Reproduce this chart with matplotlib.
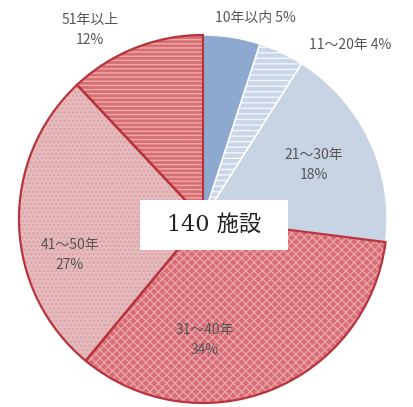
import matplotlib.pyplot as plt
from matplotlib.patches import Rectangle

plt.rcParams['font.family'] = ['Noto Sans CJK JP', 'DejaVu Sans']

# data
categories = ['10年以内', '11～20年', '21～30年', '31～40年', '41～50年', '51年以上']
shares = [5, 4, 18, 34, 27, 12]

face = ['#8EA9CF', '#C9D5E8', '#C8D3E3', '#D86C74', '#E6B9BC', '#D66F72']
hatch_col = ['#9DB5D6', '#F4F7FB', '#C8D3E3', '#E8A2A8', '#D9A2A6', '#F0A9AB']
hatches = ['', '---', '', 'xxxx', '....', '----']
edge = ['#FFFFFF', '#FFFFFF', '#FFFFFF', '#B8343C', '#B8343C', '#B8343C']

W, H = 414, 407
fig = plt.figure(figsize=(W / 100, H / 100), dpi=100)
ax = fig.add_axes([0, 0, 1, 1])

cx, cy, r = 203, H - 219, 184

# fill
wedges, _ = ax.pie(shares, colors=face, startangle=90, counterclock=False,
                   center=(cx, cy), radius=r, frame=True,
                   wedgeprops=dict(linewidth=0))
# hatch layer
hw, _ = ax.pie(shares, startangle=90, counterclock=False,
               center=(cx, cy), radius=r, frame=True,
               wedgeprops=dict(linewidth=0, fill=False))
for w, h, c in zip(hw, hatches, hatch_col):
    w.set_hatch(h)
    w.set_edgecolor(c)
# outline layer
ow, _ = ax.pie(shares, startangle=90, counterclock=False,
               center=(cx, cy), radius=r, frame=True,
               wedgeprops=dict(linewidth=1.6, fill=False))
for w, e in zip(ow, edge):
    w.set_edgecolor(e)
    if e == '#FFFFFF':
        w.set_linewidth(1.0)
ax.set_xlim(0, W)
ax.set_ylim(0, H)
ax.set_aspect('equal')
ax.axis('off')

tc = '#555555'
fs = 10
ax.text(255, H - 18, f'{categories[0]} {shares[0]}%', ha='center', va='center', fontsize=fs, color=tc)
ax.text(350, H - 45, f'{categories[1]} {shares[1]}%', ha='center', va='center', fontsize=fs, color=tc)
ax.text(314, H - 165, f'{categories[2]}\n{shares[2]}%', ha='center', va='center', fontsize=fs, color=tc, linespacing=1.6)
ax.text(205, H - 340, f'{categories[3]}\n{shares[3]}%', ha='center', va='center', fontsize=fs, color=tc, linespacing=1.6)
ax.text(70, H - 255, f'{categories[4]}\n{shares[4]}%', ha='center', va='center', fontsize=fs, color=tc, linespacing=1.6)
ax.text(90, H - 30, f'{categories[5]}\n{shares[5]}%', ha='center', va='center', fontsize=fs, color=tc, linespacing=1.6)

# centre label box
ax.add_patch(Rectangle((140, H - 250), 148, 50, fc='white', ec='none', zorder=5))
ax.text(214, H - 225, '140 施設', ha='center', va='center', fontsize=16, color='#222222',
        family=['DejaVu Serif', 'Noto Sans CJK JP'], zorder=6)

fig.savefig('out.png', dpi=100)
